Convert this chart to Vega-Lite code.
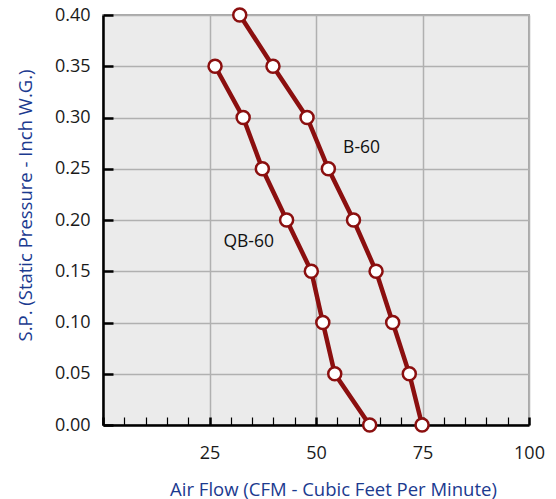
{
  "$schema": "https://vega.github.io/schema/vega-lite/v6.json",
  "width": 426,
  "height": 410,
  "autosize": "none",
  "padding": {"left": 103, "top": 15, "right": 27, "bottom": 74},
  "config": {
    "view": {"fill": "#ebebeb", "stroke": "#a8a8a8", "strokeWidth": 2},
    "font": "Open Sans"
  },
  "datasets": {
    "curves": [
      {"model": "B-60", "cfm": 32.1, "sp": 0.40},
      {"model": "B-60", "cfm": 39.9, "sp": 0.35},
      {"model": "B-60", "cfm": 47.9, "sp": 0.30},
      {"model": "B-60", "cfm": 52.9, "sp": 0.25},
      {"model": "B-60", "cfm": 58.8, "sp": 0.20},
      {"model": "B-60", "cfm": 64.1, "sp": 0.15},
      {"model": "B-60", "cfm": 68.0, "sp": 0.10},
      {"model": "B-60", "cfm": 71.9, "sp": 0.05},
      {"model": "B-60", "cfm": 74.9, "sp": 0.00},
      {"model": "QB-60", "cfm": 26.3, "sp": 0.35},
      {"model": "QB-60", "cfm": 32.9, "sp": 0.30},
      {"model": "QB-60", "cfm": 37.4, "sp": 0.25},
      {"model": "QB-60", "cfm": 43.1, "sp": 0.20},
      {"model": "QB-60", "cfm": 48.9, "sp": 0.15},
      {"model": "QB-60", "cfm": 51.6, "sp": 0.10},
      {"model": "QB-60", "cfm": 54.4, "sp": 0.05},
      {"model": "QB-60", "cfm": 62.6, "sp": 0.00}
    ],
    "labels": [
      {"text": "B-60", "cfm": 60.7, "sp": 0.270},
      {"text": "QB-60", "cfm": 34.2, "sp": 0.1785}
    ]
  },
  "encoding": {
    "x": {
      "field": "cfm",
      "type": "quantitative",
      "scale": {"domain": [0, 100], "nice": false, "zero": false},
      "axis": {
        "title": "Air Flow (CFM - Cubic Feet Per Minute)",
        "titleColor": "#1b3a8f",
        "titleFontSize": 18.5,
        "titleFontWeight": "normal",
        "titleX": 230,
        "titleY": 70,
        "titleBaseline": "alphabetic",
        "values": [0, 5, 10, 15, 20, 25, 30, 35, 40, 45, 50, 55, 60, 65, 70, 75, 80, 85, 90, 95, 100],
        "labelExpr": "datum.value % 25 === 0 && datum.value > 0 ? datum.label : ''",
        "labelFontSize": 18,
        "labelColor": "#1a1a1a",
        "labelPadding": 27,
        "labelFlush": false,
        "tickSize": -8,
        "tickColor": "black",
        "tickWidth": {"condition": {"test": "datum.value % 25 === 0", "value": 2.5}, "value": 1.2},
        "domainColor": "black",
        "domainWidth": 2.5,
        "grid": true,
        "gridColor": "#b0b0b0",
        "gridWidth": 1.5,
        "gridOpacity": {"condition": {"test": "datum.value % 25 === 0", "value": 1}, "value": 0}
      }
    },
    "y": {
      "field": "sp",
      "type": "quantitative",
      "scale": {"domain": [0, 0.4], "nice": false},
      "axis": {
        "title": "S.P. (Static Pressure - Inch W.G.)",
        "titleColor": "#1b3a8f",
        "titleFontSize": 18.5,
        "titleFontWeight": "normal",
        "titleAngle": -90,
        "titleX": -78,
        "titleY": 190,
        "titleAlign": "center",
        "titleBaseline": "middle",
        "values": [0, 0.05, 0.1, 0.15, 0.2, 0.25, 0.3, 0.35, 0.4],
        "format": ".2f",
        "labelFontSize": 18,
        "labelColor": "#1a1a1a",
        "labelPadding": 23,
        "labelFlush": false,
        "tickSize": -10,
        "tickColor": "black",
        "tickWidth": 2.5,
        "domainColor": "black",
        "domainWidth": 2.5,
        "grid": true,
        "gridColor": "#b0b0b0",
        "gridWidth": 1.5
      }
    }
  },
  "layer": [
    {
      "data": {"name": "curves"},
      "mark": {"type": "line", "color": "#8b0f0f", "strokeWidth": 4.5},
      "encoding": {"detail": {"field": "model"}}
    },
    {
      "data": {"name": "curves"},
      "mark": {"type": "point", "filled": true, "fill": "white", "stroke": "#8b0f0f", "strokeWidth": 2.5, "size": 170, "opacity": 1}
    },
    {
      "data": {"name": "labels"},
      "mark": {"type": "text", "fontSize": 17.5, "color": "#111111"},
      "encoding": {"text": {"field": "text"}}
    }
  ]
}
